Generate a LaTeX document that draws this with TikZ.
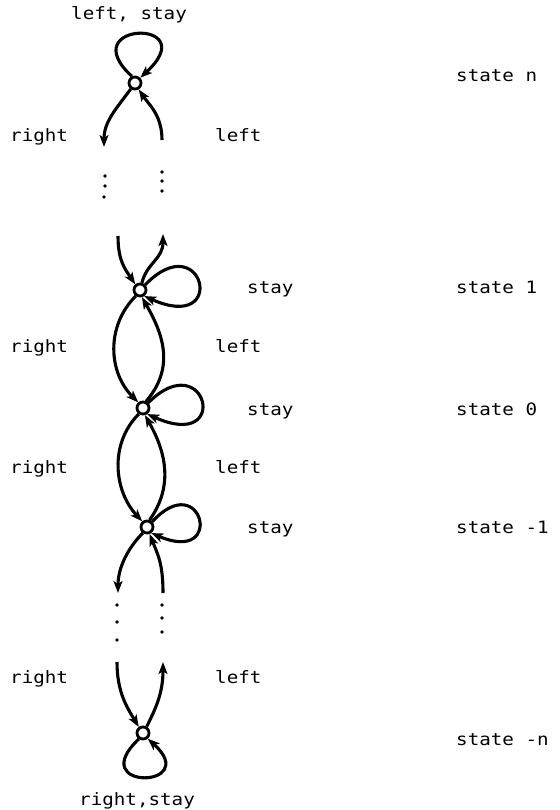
\documentclass[tikz,border=0pt]{standalone}
\usepackage{fontspec}
\setmonofont[FakeStretch=1.13]{DejaVu Sans Mono}
\usetikzlibrary{arrows.meta}
\begin{document}
\begin{tikzpicture}[x=1pt,y=-1pt,
  state/.style={circle,draw,line width=2.8pt,minimum size=12pt,inner sep=0pt},
  conn/.style={line width=3.1pt,-{Stealth[length=12pt,width=9pt,inset=3pt]}},
  txt/.style={anchor=base west,inner sep=0pt,font=\ttfamily\fontsize{17}{20}\selectfont},
  dotmark/.style={circle,fill,inner sep=0pt,minimum size=3.8pt}]
\useasboundingbox (0,0) rectangle (559,810);

% states
\node[state] (sn)  at (135,83)  {};
\node[state] (s1)  at (140,290) {};
\node[state] (s0)  at (143,408) {};
\node[state] (sm1) at (147,527) {};
\node[state] (smn) at (143,733) {};

% open ends of the connectors leading to the omitted states
\coordinate (tnL) at (104,147);
\coordinate (tnR) at (162,140);
\coordinate (t1L) at (118,236);
\coordinate (t1R) at (163,234);
\coordinate (bL)  at (118,593);
\coordinate (bR)  at (163,593);
\coordinate (tmL) at (117,662);
\coordinate (tmR) at (163,662);

% state n
\draw[conn] (sn.115) .. controls +(-60,-55) and +(65,-60) .. (sn.45);
\draw[conn] (sn.235) .. controls +(-15,20) and +(0,-25) .. (tnL);
\draw[conn] (tnR) .. controls +(0,-25) and +(10,15) .. (sn.-60);

% state 1
\draw[conn] (t1L) .. controls +(0,25) and +(-10,-15) .. (s1.130);
\draw[conn] (s1.75) .. controls +(5,-20) and +(0,25) .. (t1R);
\draw[conn] (s1.45) .. controls +(58,-60) and +(85,38) .. (s1.-55);

% between state 1 and state 0
\draw[conn] (s1.235) .. controls +(-30,30) and +(-30,-30) .. (s0.130);
\draw[conn] (s0.65) .. controls +(30,-35) and +(20,35) .. (s1.-75);
\draw[conn] (s0.45) .. controls +(58,-58) and +(85,38) .. (s0.-55);

% between state 0 and state -1
\draw[conn] (s0.235) .. controls +(-30,30) and +(-28,-30) .. (sm1.130);
\draw[conn] (sm1.70) .. controls +(25,-35) and +(20,35) .. (s0.-75);
\draw[conn] (sm1.45) .. controls +(50,-55) and +(75,32) .. (sm1.-55);

% below state -1
\draw[conn] (sm1.235) .. controls +(-15,15) and +(0,-25) .. (bL);
\draw[conn] (bR) .. controls +(0,-30) and +(8,20) .. (sm1.-70);

% state -n
\draw[conn] (tmL) .. controls +(0,30) and +(-12,-20) .. (smn.125);
\draw[conn] (smn.60) .. controls +(10,-20) and +(0,30) .. (tmR);
\draw[conn] (smn.-125) .. controls +(-55,52) and +(55,50) .. (smn.-50);

% ellipsis dots
\node[dotmark] (d1) at (105,176) {};
\node[dotmark] (d2) at (105,186) {};
\node[dotmark] (d3) at (104,197) {};
\node[dotmark] (d4) at (162,172) {};
\node[dotmark] (d5) at (162,181) {};
\node[dotmark] (d6) at (162,191) {};
\node[dotmark] (d7) at (117,605) {};
\node[dotmark] (d8) at (117,622) {};
\node[dotmark] (d9) at (117,640) {};
\node[dotmark] (d10) at (162,605) {};
\node[dotmark] (d11) at (162,618) {};
\node[dotmark] (d12) at (162,632) {};

% labels
\node[txt] (ltop) at (71,20) {left, stay};
\node[txt] (lbot) at (79,805) {right,stay};
\node[txt] (r1) at (10,142) {right};
\node[txt] (r2) at (10,352) {right};
\node[txt] (r3) at (10,473) {right};
\node[txt] (r4) at (10,683) {right};
\node[txt] (l1) at (215,142) {left};
\node[txt] (l2) at (215,352) {left};
\node[txt] (l3) at (215,473) {left};
\node[txt] (l4) at (215,683) {left};
\node[txt] (st1) at (247,293) {stay};
\node[txt] (st2) at (247,415) {stay};
\node[txt] (st3) at (247,533) {stay};
\node[txt] (nn)  at (456,82)  {state n};
\node[txt] (n1)  at (456,293) {state 1};
\node[txt] (n0)  at (456,415) {state 0};
\node[txt] (nm1) at (456,533) {state -1};
\node[txt] (nmn) at (456,745) {state -n};
\end{tikzpicture}
\end{document}
